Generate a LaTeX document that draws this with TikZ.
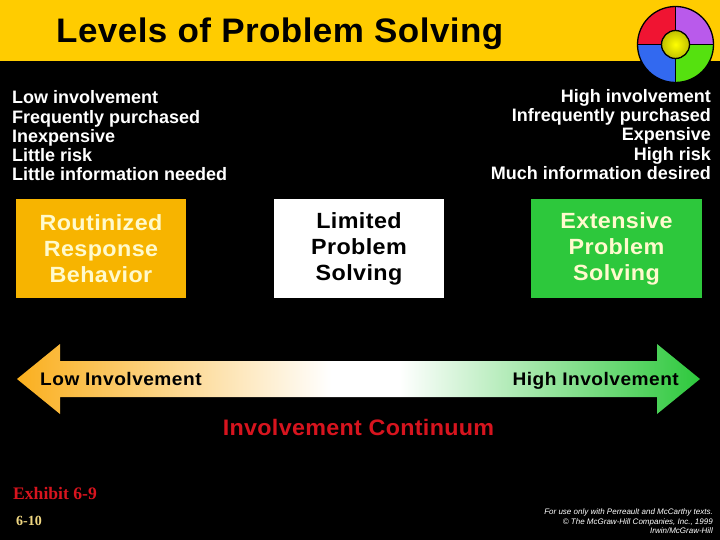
\documentclass[tikz,border=0pt]{standalone}
\usepackage{fontspec}
\setmainfont{Liberation Sans}
\newfontfamily\serifbold{Liberation Serif}[BoldFont={Liberation Serif Bold}]
\newfontfamily\spacedA{Liberation Sans Bold}[LetterSpace=1.3,FakeStretch=1.03]
\newfontfamily\spacedB{Liberation Sans Bold}[LetterSpace=1.8,FakeStretch=1.06]
\newfontfamily\spacedC{Liberation Sans Bold}[LetterSpace=2.7,FakeStretch=1.05]
\newfontfamily\spacedD{Liberation Sans Bold}[LetterSpace=1.4,FakeStretch=1.04]
\definecolor{barY}{RGB}{255,204,0}
\definecolor{boxO}{RGB}{247,180,0}
\definecolor{boxG}{RGB}{45,200,60}
\definecolor{arrO}{RGB}{250,175,30}
\definecolor{redT}{RGB}{215,20,30}
\definecolor{tanT}{RGB}{240,215,130}
\definecolor{creamT}{RGB}{255,250,205}
\definecolor{wR}{RGB}{240,20,50}
\definecolor{wP}{RGB}{185,90,235}
\definecolor{wB}{RGB}{50,105,240}
\definecolor{wG}{RGB}{85,225,15}
\pgfdeclarehorizontalshading{lowhigh}{100bp}{
  color(0bp)=(arrO); color(25bp)=(arrO); color(48bp)=(white); color(53bp)=(white); color(75bp)=(boxG); color(100bp)=(boxG)}
\tikzset{
  x=1pt,y=-1pt,
  leveltext/.style={font=\fontsize{18}{19.3}\selectfont\bfseries,align=left,inner sep=0,text=white},
  levelbox/.style={minimum width=170pt,minimum height=99pt,inner sep=0,align=center,
     font=\fontsize{22}{26}\spacedB\selectfont},
  wheel/.style={draw=black,line width=1.3pt},
  arrowlabel/.style={inner sep=0,font=\fontsize{18.2}{20}\spacedC\selectfont,text=black},
}
\begin{document}
\begin{tikzpicture}
\useasboundingbox (0,0) rectangle (720,540);
\fill[black] (0,0) rectangle (720,540);
\fill[barY] (0,0) rectangle (720,61);
\node[anchor=base west,inner sep=0,font=\fontsize{34}{40}\spacedA\selectfont] (title) at (56,43) {Levels of Problem Solving};
% wheel
\coordinate (wc) at (675.5,44.5);
\begin{scope}
\clip (wc) circle[radius=38];
\fill[wR] (637,6) rectangle (675.5,44.5);
\fill[wP] (675.5,6) rectangle (714,44.5);
\fill[wB] (637,44.5) rectangle (675.5,83);
\fill[wG] (675.5,44.5) rectangle (714,83);
\end{scope}
\draw[wheel] (wc) circle[radius=38];
\draw[wheel] (675.5,6.5) -- (675.5,82.5);
\draw[wheel] (637.5,44.5) -- (713.5,44.5);
\shade[inner color=yellow,outer color=yellow!75!black,draw=black,line width=1.3pt] (wc) circle[radius=14];
% texts
\node[leveltext,anchor=north west] (lowlist) at (12,90.5) {Low involvement\\Frequently purchased\\Inexpensive\\Little risk\\Little information needed};
\node[leveltext,align=right,anchor=north east] (highlist) at (711,89) {High involvement\\Infrequently purchased\\Expensive\\High risk\\Much information desired};
% boxes
\node[levelbox,fill=boxO,text=creamT] (rrb) at (101,248.5) {Routinized\\Response\\Behavior};
\node[levelbox,fill=white,text=black] (lps) at (359,248.5) {Limited\\Problem\\Solving};
\node[levelbox,fill=boxG,text=creamT,minimum width=171pt] (eps) at (616.5,248.5) {Extensive\\Problem\\Solving};
% arrow
\shade[shading=lowhigh]
 (17,379) -- (60,344) -- (60,361) -- (657,361) -- (657,344) -- (700,379) -- (657,414) -- (657,397) -- (60,397) -- (60,414) -- cycle;
\node[arrowlabel,anchor=base west] (low) at (40,385.5) {Low Involvement};
\node[arrowlabel,anchor=base east] (high) at (679,385.5) {High Involvement};
\node[anchor=base,inner sep=0,font=\fontsize{22.4}{24}\spacedD\selectfont,text=redT] (cont) at (358.5,435) {Involvement Continuum};
% footer
\node[anchor=base west,inner sep=0,font=\fontsize{17.6}{18}\serifbold\bfseries\selectfont,text=redT] (ex) at (13,499) {Exhibit 6-9};
\node[anchor=base west,inner sep=0,font=\fontsize{14}{15}\serifbold\bfseries\selectfont,text=tanT] (pg) at (16,525.5) {6-10};
\node[anchor=east,align=right,inner sep=0,font=\fontsize{8}{9.6}\itshape\selectfont,text=white] (cr) at (713,521.5) {For use only with Perreault and McCarthy texts.\\\textcopyright{} The McGraw-Hill Companies, Inc., 1999\\Irwin/McGraw-Hill};
\end{tikzpicture}
\end{document}
